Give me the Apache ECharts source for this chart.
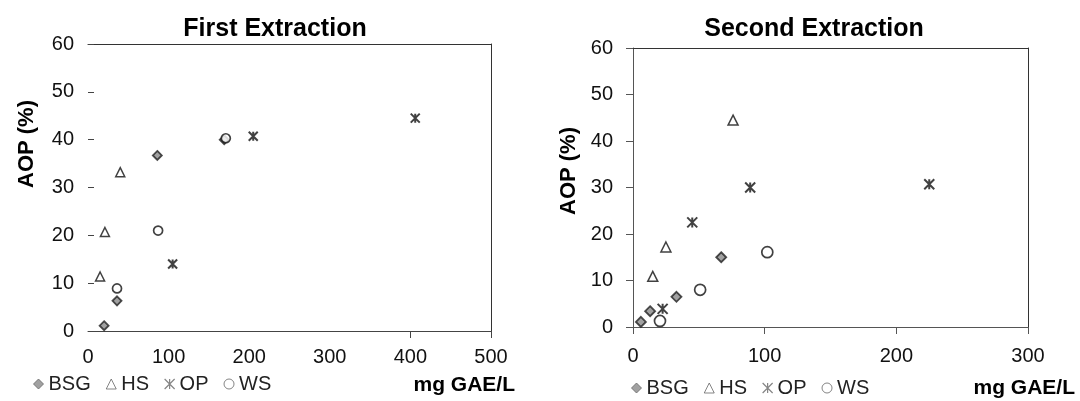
<!DOCTYPE html>
<html>
<head>
<meta charset="utf-8">
<script src="https://cdn.jsdelivr.net/npm/echarts@6/dist/echarts.min.js"></script>
<style>
  html, body { margin: 0; background: #fff; }
  #main { width: 1080px; height: 401px; }
</style>
</head>
<body>
<div id="main"></div>
<script>
// values: [mg GAE/L, AOP %]
const names = ['BSG', 'HS', 'OP', 'WS']
const firstBSG = [[20, 1.1], [36, 6.3], [86, 36.7], [169, 40]]
const firstHS = [[15, 11.4], [21, 20.7], [40, 33.2]]
const firstOP = [[105, 14], [205, 40.7], [406, 44.5]]
const firstWS = [[36, 8.9], [87, 21], [171, 40.3]]
const secondBSG = [[6, 1.1], [13, 3.4], [33, 6.5], [67, 15]]
const secondHS = [[15, 10.9], [25, 17.2], [76, 44.5]]
const secondOP = [[22.5, 3.9], [45, 22.5], [89, 30], [225, 30.7]]
const secondWS = [[20.5, 1.3], [51, 8], [102, 16.1]]
const titles = ['First Extraction', 'Second Extraction']
const xMax = [500, 300]
const yMax = 60

const font = 'Liberation Sans, Arial, sans-serif'
// asterisk-like cross for OP
const starPath = 'path://M0,0L10,10M10,0L0,10M5,0L5,10'

// marker look for each series name
const marks = {
  BSG: { symbol: 'diamond', itemStyle: { color: '#8a8a8a', borderColor: '#222', borderWidth: 1.8 } },
  HS: { symbol: 'triangle', itemStyle: { color: '#fff', borderColor: '#111', borderWidth: 1.5 } },
  OP: { symbol: starPath, itemStyle: { color: '#111', borderColor: '#111', borderWidth: 2 } },
  WS: { symbol: 'circle', itemStyle: { color: '#fff', borderColor: '#111', borderWidth: 1.7 } }
}

const myChart = echarts.init(document.getElementById('main'))

function makeSeries(name, data, axis, size) {
  return {
    name: name,
    type: 'scatter',
    xAxisIndex: axis,
    yAxisIndex: axis,
    data: data,
    symbol: marks[name].symbol,
    symbolSize: size,
    itemStyle: marks[name].itemStyle,
    emphasis: { disabled: true },
    z: 3
  }
}

// frame axes (top / right lines only)
function frameX(grid, max) {
  return {
    type: 'value', gridIndex: grid, position: 'top', min: 0, max: max,
    axisLine: { show: true, onZero: false, lineStyle: { color: '#333', width: 1 } },
    axisTick: { show: false }, axisLabel: { show: false }, splitLine: { show: false }
  }
}
function frameY(grid) {
  return {
    type: 'value', gridIndex: grid, position: 'right', min: 0, max: yMax,
    axisLine: { show: true, onZero: false, lineStyle: { color: '#333', width: 1 } },
    axisTick: { show: false }, axisLabel: { show: false }, splitLine: { show: false }
  }
}

const labelStyle = { color: '#111', fontSize: 20, fontFamily: font }

function legendData() {
  return [
    { name: 'BSG', icon: 'diamond', itemStyle: { color: '#8a8a8a', borderColor: '#666', borderWidth: 1 } },
    { name: 'HS', icon: 'triangle', itemStyle: { color: '#fff', borderColor: '#666', borderWidth: 1 } },
    { name: 'OP', icon: starPath, itemStyle: { color: '#666', borderColor: '#666', borderWidth: 1.2 } },
    { name: 'WS', icon: 'circle', itemStyle: { color: '#fff', borderColor: '#666', borderWidth: 1 } }
  ]
}

const option = {
  animation: false,
  title: [
    { text: titles[0], left: 270, top: 12, textAlign: 'center',
      textStyle: { fontSize: 25, fontWeight: 'bold', color: '#000', fontFamily: font } },
    { text: titles[1], left: 809, top: 12, textAlign: 'center',
      textStyle: { fontSize: 25, fontWeight: 'bold', color: '#000', fontFamily: font } }
  ],
  legend: [
    { data: legendData(), left: 33, top: 374, padding: 0, itemWidth: 10, itemHeight: 10, itemGap: 15,
      selectedMode: false, textStyle: { color: '#222', fontSize: 20, fontFamily: font } },
    { data: legendData(), left: 631, top: 378, padding: 0, itemWidth: 10, itemHeight: 10, itemGap: 15,
      selectedMode: false, textStyle: { color: '#222', fontSize: 20, fontFamily: font } }
  ],
  grid: [
    { left: 88, top: 44, width: 403, height: 287 },
    { left: 633, top: 48, width: 395, height: 279 }
  ],
  xAxis: [
    {
      type: 'value', gridIndex: 0, min: 0, max: xMax[0], interval: 100,
      axisLine: { show: true, onZero: false, lineStyle: { color: '#444', width: 1 } },
      axisTick: { show: true, length: 7, customValues: [400, 500], lineStyle: { color: '#444' } },
      axisLabel: Object.assign({ margin: 16 }, labelStyle),
      splitLine: { show: false }
    },
    frameX(0, xMax[0]),
    {
      type: 'value', gridIndex: 1, min: 0, max: xMax[1], interval: 100,
      axisLine: { show: true, onZero: false, lineStyle: { color: '#555', width: 1 } },
      axisTick: { show: true, length: 7, lineStyle: { color: '#555' } },
      axisLabel: Object.assign({ margin: 19 }, labelStyle),
      splitLine: { show: false }
    },
    frameX(1, xMax[1])
  ],
  yAxis: [
    {
      type: 'value', gridIndex: 0, min: 0, max: yMax, interval: 10,
      axisLine: { show: false, onZero: false },
      axisTick: { show: true, inside: true, length: 6, lineStyle: { color: '#444' } },
      axisLabel: Object.assign({ margin: 14 }, labelStyle),
      splitLine: { show: false }
    },
    frameY(0),
    {
      type: 'value', gridIndex: 1, min: 0, max: yMax, interval: 10,
      axisLine: { show: true, onZero: false, lineStyle: { color: '#555', width: 1 } },
      axisTick: { show: true, length: 7, lineStyle: { color: '#555' } },
      axisLabel: Object.assign({ margin: 20 }, labelStyle),
      splitLine: { show: false }
    },
    frameY(1)
  ],
  graphic: [
    { type: 'text', x: 27, y: 144, rotation: Math.PI / 2,
      style: { text: 'AOP (%)', font: 'bold 22px ' + font, fill: '#000', textAlign: 'center', textVerticalAlign: 'middle' } },
    { type: 'text', x: 569, y: 171, rotation: Math.PI / 2,
      style: { text: 'AOP (%)', font: 'bold 22px ' + font, fill: '#000', textAlign: 'center', textVerticalAlign: 'middle' } },
    { type: 'text', x: 515, y: 385,
      style: { text: 'mg GAE/L', font: 'bold 21px ' + font, fill: '#000', textAlign: 'right', textVerticalAlign: 'middle' } },
    { type: 'text', x: 1075, y: 388,
      style: { text: 'mg GAE/L', font: 'bold 21px ' + font, fill: '#000', textAlign: 'right', textVerticalAlign: 'middle' } }
  ],
  series: [
    makeSeries('BSG', firstBSG, 0, 9),
    makeSeries('HS', firstHS, 0, 9),
    makeSeries('OP', firstOP, 0, 9),
    makeSeries('WS', firstWS, 0, 9),
    makeSeries('BSG', secondBSG, 2, 10),
    makeSeries('HS', secondHS, 2, 10),
    makeSeries('OP', secondOP, 2, 10),
    makeSeries('WS', secondWS, 2, 11)
  ]
}

myChart.setOption(option)
</script>
</body>
</html>
